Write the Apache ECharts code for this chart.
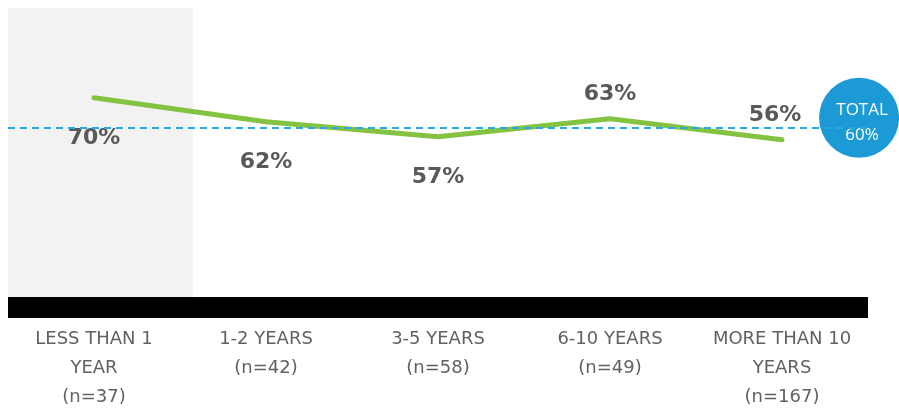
<!DOCTYPE html>
<html>
<head>
<meta charset="utf-8">
<script src="https://cdn.jsdelivr.net/npm/echarts@6/dist/echarts.min.js"></script>
<style>
  html, body { margin: 0; padding: 0; background: #ffffff; }
  #chart { width: 899px; height: 413px; }
</style>
</head>
<body>
<div id="chart"></div>
<script>
// Tenure groups and the share for each group
const categories = [
  'LESS THAN 1\nYEAR\n(n=37)',
  '1-2 YEARS\n(n=42)',
  '3-5 YEARS\n(n=58)',
  '6-10 YEARS\n(n=49)',
  'MORE THAN 10\nYEARS\n(n=167)'
];
const shares = [70, 62, 57, 63, 56];
const labelSides = ['bottom', 'bottom', 'bottom', 'top', 'top'];
const total = 60;

const GREEN = '#84C341';
const BLUE = '#1C9AD6';
const TEXT = '#595959';
const LABEL_FONT = '"DejaVu Sans", "Open Sans", sans-serif';

const lineData = shares.map((v, i) => ({
  value: v,
  label: {
    position: labelSides[i],
    distance: labelSides[i] === 'bottom' ? 29 : 13,
    offset: i === 4 ? [-7, 0] : [0, 0]
  }
}));

const chart = echarts.init(document.getElementById('chart'), null, { renderer: 'canvas' });

chart.setOption({
  animation: false,
  backgroundColor: '#ffffff',
  grid: { left: 8, right: 31, top: 8, bottom: 105.5, containLabel: false, outerBoundsMode: 'none' },
  xAxis: [
    {
      type: 'category',
      data: categories,
      boundaryGap: true,
      z: 10,
      axisLine: { show: true, lineStyle: { color: '#000000', width: 21, cap: 'butt' } },
      axisTick: { show: false },
      splitLine: { show: false },
      axisLabel: {
        interval: 0,
        color: '#616161',
        fontFamily: LABEL_FONT,
        fontSize: 18,
        lineHeight: 29,
        margin: 17
      }
    },
    {
      // helper axis: one unit per category band, used for the shaded band and the total badge
      type: 'value',
      min: 0,
      max: 5,
      show: false
    }
  ],
  yAxis: {
    type: 'value',
    min: 0,
    max: 100,
    show: false,
    splitLine: { show: false }
  },
  series: [
    {
      // shaded background behind the first group
      type: 'scatter',
      xAxisIndex: 1,
      data: [],
      z: 1,
      silent: true,
      markArea: {
        silent: true,
        itemStyle: { color: '#F2F2F2' },
        data: [[{ xAxis: 0, yAxis: 0 }, { xAxis: 1.075, yAxis: 100 }]]
      }
    },
    {
      type: 'line',
      xAxisIndex: 0,
      data: lineData,
      z: 3,
      symbol: 'circle',
      symbolSize: 1,
      itemStyle: { color: GREEN },
      lineStyle: { color: GREEN, width: 5, cap: 'round', join: 'round' },
      label: {
        show: true,
        formatter: '{c}%',
        color: TEXT,
        fontFamily: LABEL_FONT,
        fontWeight: 'bold',
        fontSize: 22
      },
      markLine: {
        silent: true,
        symbol: ['none', 'none'],
        label: { show: false },
        lineStyle: { color: '#29A8E0', width: 2, type: [7, 5] },
        data: [{ yAxis: total }]
      }
    },
    {
      // total badge
      type: 'scatter',
      xAxisIndex: 1,
      z: 4,
      silent: true,
      symbol: 'circle',
      symbolSize: 80,
      symbolOffset: [0, -10],
      itemStyle: { color: BLUE, opacity: 1 },
      data: [[4.948, total]],
      label: {
        show: true,
        position: 'inside',
        offset: [3, 5],
        formatter: 'TOTAL\n' + total + '%',
        color: '#ffffff',
        fontFamily: '"Open Sans", sans-serif',
        fontSize: 17,
        lineHeight: 25
      }
    }
  ]
});
</script>
</body>
</html>
